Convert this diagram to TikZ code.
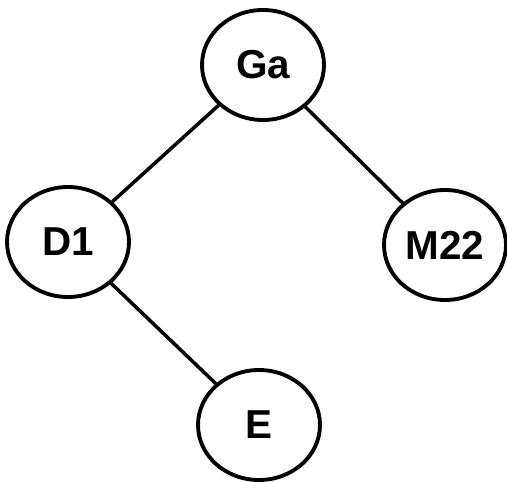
\documentclass[tikz,border=0pt]{standalone}
\usepackage{fontspec}
\setmainfont{Liberation Sans}
\usetikzlibrary{positioning,shapes.geometric}

\begin{document}
\begin{tikzpicture}[-,thick,on grid,main node/.style={ellipse,draw,line width=2.2pt,minimum width=2.44cm,minimum height=2.2cm,inner sep=0pt,font=\fontsize{23}{27}\selectfont\bfseries}]

            \useasboundingbox (-5.26,1.3) rectangle (4.88,-8.32);

            \node[main node] (ga) {Ga};
            \node[main node] (d1) [below left=3.54cm and 3.9cm of ga] {D1};
            \node[main node] (m22) [below right=3.6cm and 3.64cm of ga] {M22};
            \node[main node] (e) [below right=3.66cm and 3.82cm of d1] {E};

            \draw[line width=2pt] (ga) to (d1);
            \draw[line width=2pt] (ga) to (m22);
            \draw[line width=2pt] (d1) to (e);

        \end{tikzpicture}
\end{document}
